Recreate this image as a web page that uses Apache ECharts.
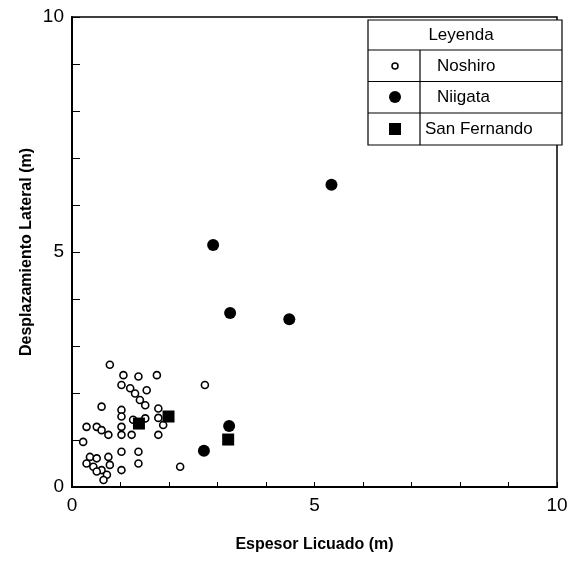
<!DOCTYPE html>
<html><head><meta charset="utf-8">
<script src="https://cdn.jsdelivr.net/npm/echarts@6/dist/echarts.min.js"></script>
<style>html,body{margin:0;padding:0;background:#fff}#c{width:574px;height:575px}</style>
</head><body><div id="c"></div>
<script>
var xTicks = [0, 5, 10];
var yTicks = [0, 5, 10];
var noshiroX = [0.78,1.06,1.37,1.75,1.02,1.20,1.54,1.30,1.40,1.51,0.61,1.02,1.02,1.51,1.78,1.78,1.88,1.26,0.30,0.51,0.61,0.75,1.02,1.02,1.23,1.78,0.23,2.74,2.23,0.37,0.51,0.75,1.02,1.37,1.37,0.44,0.61,0.72,1.02,0.65,0.30,0.78,0.51];
var noshiroY = [2.60,2.38,2.35,2.38,2.17,2.10,2.06,1.99,1.85,1.74,1.71,1.64,1.50,1.46,1.67,1.47,1.32,1.43,1.28,1.28,1.21,1.11,1.28,1.11,1.11,1.11,0.96,2.17,0.43,0.64,0.61,0.64,0.75,0.75,0.50,0.43,0.36,0.26,0.36,0.15,0.50,0.47,0.33];
var niigataX = [5.35,2.91,3.26,4.48,3.24,2.72];
var niigataY = [6.43,5.15,3.70,3.57,1.30,0.77];
var sanFernandoX = [1.99,1.38,3.22];
var sanFernandoY = [1.50,1.35,1.01];
var legendNames = ['Noshiro','Niigata','San Fernando'];

function pairs(xs, ys){ return xs.map(function(x,i){ return [x, ys[i]]; }); }

var chart = echarts.init(document.getElementById('c'));
var FONT = 'Liberation Sans, Arial, sans-serif';
chart.setOption({
  animation:false,
  backgroundColor:'#fff',
  grid:{left:72,right:17,top:17,bottom:88,show:true,borderColor:'#000',borderWidth:1.5},
  xAxis:{type:'value',min:0,max:10,interval:1,
    name:'Espesor Licuado (m)',nameLocation:'middle',nameGap:50,
    nameTextStyle:{fontFamily:FONT,fontWeight:'bold',fontSize:16,color:'#000'},
    axisLine:{show:true,onZero:false,lineStyle:{color:'#000',width:2}},
    axisTick:{show:true,inside:true,length:5,lineStyle:{color:'#000',width:1}},
    axisLabel:{formatter:function(v){return xTicks.indexOf(v)>=0?String(v):'';},fontFamily:FONT,fontSize:19,color:'#000',margin:9,showMaxLabel:true,showMinLabel:true},
    splitLine:{show:false}},
  yAxis:{type:'value',min:0,max:10,interval:1,
    name:'Desplazamiento Lateral (m)',nameLocation:'middle',nameGap:37,nameMoveOverlap:false,
    nameTextStyle:{fontFamily:FONT,fontWeight:'bold',fontSize:16,color:'#000'},
    axisLine:{show:true,onZero:false,lineStyle:{color:'#000',width:2}},
    axisTick:{show:true,inside:true,length:8,lineStyle:{color:'#000',width:1}},
    axisLabel:{formatter:function(v){return yTicks.indexOf(v)>=0?String(v):'';},fontFamily:FONT,fontSize:19,color:'#000',margin:8},
    splitLine:{show:false}},
  series:[
    {name:legendNames[0],type:'scatter',data:pairs(noshiroX,noshiroY),symbol:'circle',symbolSize:7,
     itemStyle:{color:'#fff',borderColor:'#000',borderWidth:1.6,opacity:1}},
    {name:legendNames[1],type:'scatter',data:pairs(niigataX,niigataY),symbol:'circle',symbolSize:12,
     itemStyle:{color:'#000',opacity:1}},
    {name:legendNames[2],type:'scatter',data:pairs(sanFernandoX,sanFernandoY),symbol:'rect',symbolSize:12,
     itemStyle:{color:'#000',opacity:1}}
  ],
  graphic:[
    {type:'rect',z:100,shape:{x:368,y:20,width:194,height:125},style:{fill:'#fff',stroke:'#000',lineWidth:1.2}},
    {type:'line',z:101,shape:{x1:368,y1:50,x2:562,y2:50},style:{stroke:'#000',lineWidth:1.2}},
    {type:'line',z:101,shape:{x1:368,y1:81.5,x2:562,y2:81.5},style:{stroke:'#000',lineWidth:1.2}},
    {type:'line',z:101,shape:{x1:368,y1:113,x2:562,y2:113},style:{stroke:'#000',lineWidth:1.2}},
    {type:'line',z:101,shape:{x1:420,y1:50,x2:420,y2:145},style:{stroke:'#000',lineWidth:1.2}},
    {type:'text',z:102,x:461,y:35,style:{text:'Leyenda',font:'17px '+FONT,fill:'#000',textAlign:'center',textVerticalAlign:'middle'}},
    {type:'text',z:102,x:437,y:66,style:{text:legendNames[0],font:'17px '+FONT,fill:'#000',textVerticalAlign:'middle'}},
    {type:'text',z:102,x:437,y:97,style:{text:legendNames[1],font:'17px '+FONT,fill:'#000',textVerticalAlign:'middle'}},
    {type:'text',z:102,x:425,y:129,style:{text:legendNames[2],font:'17px '+FONT,fill:'#000',textVerticalAlign:'middle'}},
    {type:'circle',z:102,shape:{cx:395,cy:66,r:3},style:{fill:'#fff',stroke:'#000',lineWidth:1.5}},
    {type:'circle',z:102,shape:{cx:395,cy:97,r:6},style:{fill:'#000'}},
    {type:'rect',z:102,shape:{x:389,y:123,width:12,height:12},style:{fill:'#000'}}
  ]
});
</script></body></html>
